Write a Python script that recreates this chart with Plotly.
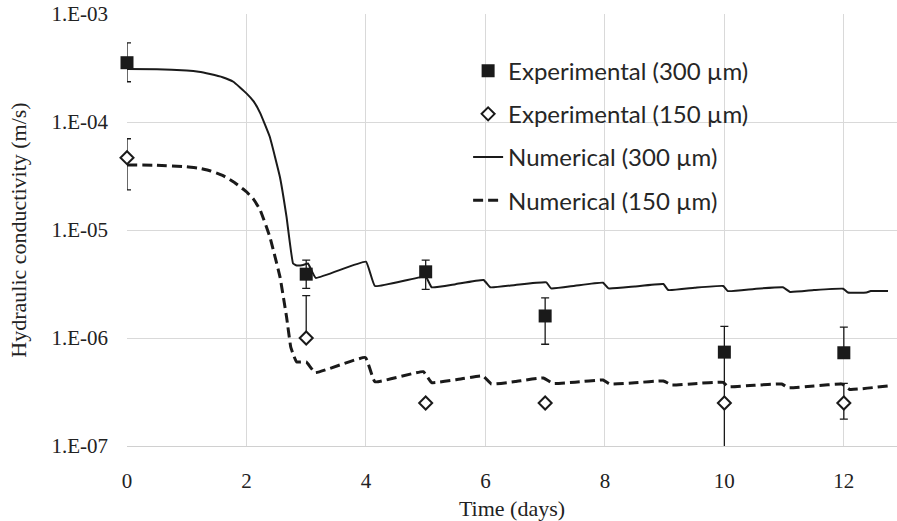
import plotly.graph_objects as go

# Experimental measurements (days, m/s) with upper/lower bounds of the error bars
t_exp = [0, 3, 5, 7, 10, 12]
k_exp_300 = [3.54e-4, 3.9e-6, 4.1e-6, 1.6e-6, 7.4e-7, 7.3e-7]
k_exp_300_hi = [5.4e-4, 5.27e-6, 5.27e-6, 2.35e-6, 1.28e-6, 1.26e-6]
k_exp_300_lo = [2.36e-4, 2.88e-6, 2.82e-6, 8.75e-7, 7.4e-7, 7.3e-7]

k_exp_150 = [4.67e-5, 1.0e-6, 2.5e-7, 2.5e-7, 2.5e-7, 2.5e-7]
k_exp_150_hi = [7.0e-5, 2.47e-6, 2.5e-7, 2.5e-7, 7.4e-7, 3.8e-7]
k_exp_150_lo = [2.35e-5, 1.0e-6, 2.5e-7, 2.5e-7, 1e-9, 1.77e-7]

# Numerical model, 300 µm
t_num_300 = [0, 0.5, 1.0, 1.2, 1.39, 1.6, 1.78, 2.0, 2.12, 2.23, 2.39, 2.56, 2.67,
             2.78, 2.84, 2.95, 3.03, 3.16, 4.0, 4.15, 5.0, 5.1, 5.5, 5.97, 6.08, 6.5,
             7.02, 7.1, 7.5, 7.97, 8.06, 8.5, 8.98, 9.06, 9.5, 9.98, 10.06, 10.5,
             10.98, 11.1, 11.5, 11.99, 12.07, 12.38, 12.45, 12.74]
k_num_300 = [3.1e-4, 3.08e-4, 3.0e-4, 2.92e-4, 2.78e-4, 2.6e-4, 2.36e-4, 1.84e-4,
             1.55e-4, 1.21e-4, 7.3e-5, 3.1e-5, 1.33e-5, 4.9e-6, 4.7e-6, 4.75e-6,
             4.9e-6, 3.6e-6, 5.09e-6, 3.03e-6, 3.7e-6, 2.95e-6, 3.15e-6, 3.44e-6,
             2.95e-6, 3.1e-6, 3.27e-6, 2.88e-6, 3.05e-6, 3.25e-6, 2.88e-6, 3.0e-6,
             3.16e-6, 2.78e-6, 2.92e-6, 3.03e-6, 2.72e-6, 2.85e-6, 2.95e-6, 2.67e-6,
             2.78e-6, 2.86e-6, 2.64e-6, 2.64e-6, 2.72e-6, 2.72e-6]

# Numerical model, 150 µm
t_num_150 = [0, 0.5, 1.0, 1.2, 1.39, 1.6, 1.78, 2.0, 2.12, 2.23, 2.39, 2.56, 2.67,
             2.74, 2.78, 2.84, 3.0, 3.15, 3.99, 4.15, 4.96, 5.1, 5.5, 5.96, 6.1, 6.5,
             6.97, 7.13, 7.5, 7.97, 8.08, 8.5, 8.98, 9.12, 9.5, 9.98, 10.06, 10.5,
             10.96, 11.07, 11.5, 11.97, 12.1, 12.74]
k_num_150 = [4.0e-5, 3.98e-5, 3.86e-5, 3.74e-5, 3.54e-5, 3.2e-5, 2.8e-5, 2.26e-5,
             1.92e-5, 1.53e-5, 8.7e-6, 3.7e-6, 1.58e-6, 8.3e-7, 7.1e-7, 6.0e-7,
             6.0e-7, 4.78e-7, 6.6e-7, 3.94e-7, 4.88e-7, 3.86e-7, 4.1e-7, 4.45e-7,
             3.75e-7, 3.95e-7, 4.26e-7, 3.8e-7, 3.9e-7, 4.08e-7, 3.75e-7, 3.85e-7,
             4.0e-7, 3.67e-7, 3.78e-7, 3.89e-7, 3.54e-7, 3.65e-7, 3.75e-7, 3.46e-7,
             3.6e-7, 3.74e-7, 3.34e-7, 3.6e-7]

y_tick_vals = [1e-7, 1e-6, 1e-5, 1e-4, 1e-3]
y_tick_text = ["1.E-07", "1.E-06", "1.E-05", "1.E-04", "1.E-03"]
x_tick_vals = [0, 2, 4, 6, 8, 10, 12]

INK = "#1a1a1a"
SERIF = "Liberation Serif, Times New Roman, serif"
SANS = "Lato, Carlito, Calibri, sans-serif"


def plus(v, hi):
    return [h - x for x, h in zip(v, hi)]


def minus(v, lo):
    return [x - l for x, l in zip(v, lo)]


def err(v, hi, lo):
    return dict(type="data", symmetric=False, array=plus(v, hi),
                arrayminus=minus(v, lo), color=INK, thickness=1.3, width=4)


fig = go.Figure()

# model curves
fig.add_trace(go.Scatter(
    x=t_num_300, y=k_num_300, mode="lines", name="Numerical (300 µm)",
    line=dict(color=INK, width=2, shape="spline", smoothing=0.3),
    legendrank=3, legendgroup="n300",
))
fig.add_trace(go.Scatter(
    x=t_num_150, y=k_num_150, mode="lines", name="Numerical (150 µm)",
    line=dict(color=INK, width=3, dash="10px,5px", shape="spline", smoothing=0.3),
    legendrank=4, legendgroup="n150",
))

# error bars (clipped to the plotting area)
for v, hi, lo in [(k_exp_300, k_exp_300_hi, k_exp_300_lo),
                  (k_exp_150, k_exp_150_hi, k_exp_150_lo)]:
    fig.add_trace(go.Scatter(
        x=t_exp, y=v, mode="markers", showlegend=False, hoverinfo="skip",
        marker=dict(size=1, color="rgba(0,0,0,0)"),
        error_y=err(v, hi, lo), cliponaxis=True,
    ))

# measured points
fig.add_trace(go.Scatter(
    x=t_exp, y=k_exp_300, mode="markers", name="Experimental (300 µm)",
    marker=dict(symbol="square", size=13, color=INK),
    legendrank=1, legendgroup="e300", cliponaxis=False,
))
fig.add_trace(go.Scatter(
    x=t_exp, y=k_exp_150, mode="markers", name="Experimental (150 µm)",
    marker=dict(symbol="diamond", size=10, color="white",
                line=dict(color=INK, width=2)),
    legendrank=2, legendgroup="e150", cliponaxis=False,
))

fig.update_layout(
    width=897, height=521,
    margin=dict(l=127, r=0, t=14, b=75),
    paper_bgcolor="white", plot_bgcolor="white",
    showlegend=True,
    legend=dict(
        x=0.443, xanchor="left", y=0.92, yanchor="top",
        bgcolor="rgba(0,0,0,0)",
        font=dict(family=SANS, size=24, color="#262626"),
        itemsizing="trace", traceorder="grouped", tracegroupgap=9,
    ),
    xaxis=dict(
        range=[0, 12.89], tickvals=x_tick_vals,
        showgrid=True, gridcolor="#d9d9d9", gridwidth=1,
        showline=True, linecolor="#d0d0d0", linewidth=1,
        zeroline=False, ticks="", ticklabelstandoff=16,
        tickfont=dict(family=SERIF, size=21, color="#222"),
        title=dict(text="Time (days)", standoff=10,
                   font=dict(family=SERIF, size=22, color="#222")),
    ),
    yaxis=dict(
        type="log", range=[-7, -3],
        tickvals=y_tick_vals, ticktext=y_tick_text,
        showgrid=True, gridcolor="#d9d9d9", gridwidth=1,
        showline=False, zeroline=False, ticks="", ticklabelstandoff=18,
        tickfont=dict(family=SERIF, size=21, color="#222"),
        title=dict(text="Hydraulic conductivity (m/s)", standoff=18,
                   font=dict(family=SERIF, size=22, color="#222")),
    ),
)

fig.write_html("out.html")
